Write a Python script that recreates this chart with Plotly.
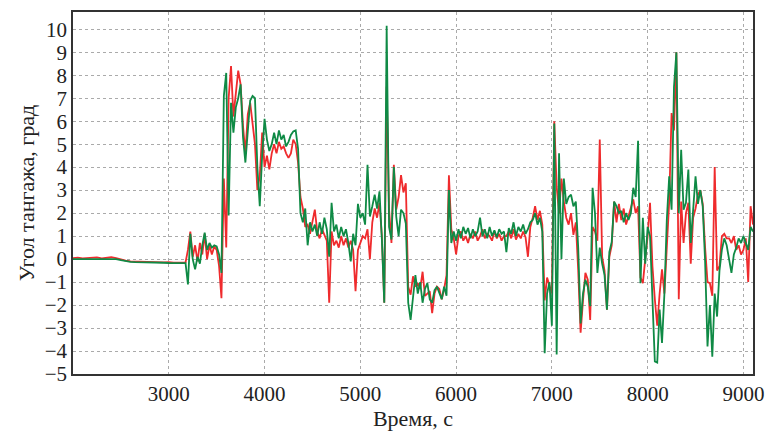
import plotly.graph_objects as go

# time base (s)
time_flat = [2000, 2050, 2100, 2150, 2200, 2250, 2300, 2350, 2400, 2450, 2500, 2550,
             2600, 2650, 2700, 2750, 2800, 2850, 2900, 2950, 3000, 3050, 3100, 3150]
time_active = list(range(3175, 9101, 25))
time = time_flat + time_active

green_flat = [0.0, 0.0, 0.01, 0.0, 0.01, 0.0, 0.01, 0.02, 0.02, 0.0, -0.05, -0.1,
              -0.12, -0.13, -0.13, -0.14, -0.14, -0.15, -0.15, -0.16, -0.17, -0.17, -0.18, -0.18]
red_flat = [0.04, 0.06, 0.03, 0.05, 0.04, 0.07, 0.03, 0.05, 0.08, 0.04, -0.02, -0.07,
            -0.1, -0.11, -0.12, -0.1, -0.13, -0.12, -0.15, -0.14, -0.13, -0.16, -0.15, -0.14]

green_active = [
    -0.18, -1.1, 1.1, 0.0,            # 3175-3250
    -0.45, 0.1, -0.2, 0.6,            # 3275-3350
    1.15, 0.4, 0.7, 0.5,              # 3375-3450
    0.6, 0.55, 0.2, -0.6,             # 3475-3550
    7.1, 8.1, 1.9, 6.8,               # 3575-3650
    5.5, 6.6, 7.0, 7.6,               # 3675-3750
    5.3, 4.2, 5.6, 6.9,               # 3775-3850
    7.1, 7.0, 4.0, 2.3,               # 3875-3950
    4.5, 6.1, 5.2, 4.7,               # 3975-4050
    5.0, 5.5, 5.0, 5.6,               # 4075-4150
    5.2, 5.4, 4.9, 5.1,               # 4175-4250
    5.4, 5.55, 5.6, 4.8,              # 4275-4350
    2.0, 1.6, 2.2, 0.6,               # 4375-4450
    1.6, 1.2, 1.5, 1.0,               # 4475-4550
    1.6, 1.1, 1.8, 1.3,               # 4575-4650
    0.1, 2.45, 1.2, 1.5,              # 4675-4750
    0.9, 1.4, 1.0, 1.3,               # 4775-4850
    0.7, -0.1, 1.1, 0.6,              # 4875-4950
    2.4, 1.8, 2.0, 1.5,               # 4975-5050
    4.1, 1.85, 2.3, 2.8,              # 5075-5150
    2.2, 2.95, 0.85, -1.9,            # 5175-5250
    10.15, 1.4, 0.85, 4.0,            # 5275-5350
    1.85, 1.0, 2.15, 2.0,             # 5375-5450
    1.55, -1.9, -2.65, -1.6,          # 5475-5550
    -0.7, -1.5, -1.0, -1.9,           # 5575-5650
    -1.3, -1.05, -1.75, -1.9,         # 5675-5750
    -1.35, -1.2, -1.5, -1.75,         # 5775-5850
    -1.2, -1.6, 3.0, 0.7,             # 5875-5950
    1.2, 0.8, 1.3, 0.9,               # 5975-6050
    1.4, 1.1, 1.35, 0.9,              # 6075-6150
    1.3, 1.0, 1.2, 1.8,               # 6175-6250
    1.0, 1.3, 0.9, 1.4,               # 6275-6350
    1.0, 1.25, 0.95, 1.3,             # 6375-6450
    1.1, 1.2, 0.3, 1.35,              # 6475-6550
    1.1, 1.6, 1.0, 1.4,               # 6575-6650
    1.2, 1.5, 1.1, 1.3,               # 6675-6750
    1.6, 1.7, 2.0, 1.5,               # 6775-6850
    1.8, 1.2, -4.1, -1.5,             # 6875-6950
    -1.0, -2.9, 5.9, -4.15,           # 6975-7050
    4.6, 0.0, 3.5, 2.4,               # 7075-7150
    2.7, 2.8, 2.3, 2.5,               # 7175-7250
    0.5, -2.8, -1.5, -0.9,            # 7275-7350
    -1.2, -2.05, 3.1, 2.0,            # 7375-7450
    -0.6, 0.5, -0.2, -0.7,            # 7475-7550
    -2.2, 0.3, 0.75, 2.5,             # 7575-7650
    2.3, 2.0, 2.1, 1.6,               # 7675-7750
    2.0, 1.7, 2.0, 3.1,               # 7775-7850
    2.7, 5.15, -1.05, 1.8,            # 7875-7950
    -0.2, 1.4, 1.0, -1.6,             # 7975-8050
    -4.45, -4.5, -2.2, -3.65,         # 8075-8150
    -1.5, 1.7, 3.6, 2.15,             # 8175-8250
    7.5, 9.0, 2.0, 4.75,              # 8275-8350
    2.15, 2.45, 3.9, 0.7,             # 8375-8450
    2.0, 3.6, 2.4, 3.0,               # 8475-8550
    2.3, -0.1, -3.8, -2.0,            # 8575-8650
    -4.25, -1.5, -2.5, -0.5,          # 8675-8750
    0.4, 0.9, 0.6, 0.0,               # 8775-8850
    -0.6, 0.2, 0.5, 0.9,              # 8875-8950
    0.7, 1.0, 0.7, 0.4,               # 8975-9050
    1.4, 1.2,                         # 9075-9100
]

red_active = [
    -0.15, 0.4, 1.2, 0.1,             # 3175-3250
    0.6, -0.1, 0.7, 0.2,              # 3275-3350
    1.1, 0.0, 0.6, 0.2,               # 3375-3450
    0.55, 0.4, -0.3, -1.7,            # 3475-3550
    3.5, 0.5, 7.0, 8.4,               # 3575-3650
    6.2, 7.2, 8.2, 7.6,               # 3675-3750
    5.8, 4.6, 6.3, 6.8,               # 3775-3850
    6.0, 5.0, 3.0, 3.6,               # 3875-3950
    5.5, 4.0, 4.5, 3.9,               # 3975-4050
    4.6, 5.0, 4.6, 5.1,               # 4075-4150
    4.8, 4.9, 4.6, 4.4,               # 4175-4250
    4.6, 5.2, 5.0, 4.2,               # 4275-4350
    2.7, 2.2, 1.4, 1.5,               # 4375-4450
    1.1, 1.7, 2.15, 1.2,              # 4475-4550
    0.9, 1.3, 1.0, 0.8,               # 4575-4650
    -1.9, 1.2, 0.6, 0.8,              # 4675-4750
    0.5, 1.0, 0.6, 0.9,               # 4775-4850
    0.5, 0.8, 0.4, -1.4,              # 4875-4950
    0.4, 0.7, 1.0, 0.9,               # 4975-5050
    1.3, 0.0, 1.6, 2.2,               # 5075-5150
    1.8, 2.45, 1.0, -1.9,             # 5175-5250
    7.5, 2.15, 0.7, 4.1,              # 5275-5350
    2.15, 2.7, 3.65, 2.9,             # 5375-5450
    3.3, -1.2, -1.55, -0.75,          # 5475-5550
    -1.2, -1.05, -1.3, -0.55,         # 5575-5650
    -1.6, -1.5, -1.4, -2.35,          # 5675-5750
    -1.5, -1.2, -1.3, -1.75,          # 5775-5850
    -1.3, -0.7, 3.65, 1.3,            # 5875-5950
    0.9, 0.2, 1.0, 1.2,               # 5975-6050
    0.8, 1.0, 0.7, 1.1,               # 6075-6150
    0.9, 1.2, 0.8, 1.0,               # 6175-6250
    1.3, 0.9, 1.1, 1.0,               # 6275-6350
    0.8, 1.2, 0.9, 1.1,               # 6375-6450
    0.8, 1.0, 1.0, 1.2,               # 6475-6550
    0.9, 1.3, 0.85, 1.1,              # 6575-6650
    0.9, 1.2, 0.95, 0.1,              # 6675-6750
    1.4, 1.8, 2.3, 1.7,               # 6775-6850
    2.1, 1.5, -1.8, -0.8,             # 6875-6950
    -1.2, -1.5, 6.0, 3.15,            # 6975-7050
    2.0, 3.5, 2.5, 1.8,               # 7075-7150
    1.5, 2.0, 1.05, 1.6,              # 7175-7250
    -0.5, -3.2, -1.8, -0.6,           # 7275-7350
    -0.9, -2.65, 1.4, 1.2,            # 7375-7450
    0.8, 5.2, 0.1, -0.5,              # 7475-7550
    -2.2, 0.1, 0.6, 2.5,              # 7575-7650
    1.6, 2.4, 1.7, 2.2,               # 7675-7750
    1.5, 1.9, 2.3, 2.6,               # 7775-7850
    2.0, 2.3, -0.8, -1.05,            # 7875-7950
    0.0, 1.0, 2.45, -0.3,             # 7975-8050
    -1.75, -2.9, -1.5, -0.45,         # 8075-8150
    -1.5, 0.5, 2.5, 6.35,             # 8175-8250
    5.6, 9.0, -1.75, 2.5,             # 8275-8350
    0.7, 2.0, 2.45, -0.2,             # 8375-8450
    1.8, 2.2, 2.8, 3.0,               # 8475-8550
    2.4, 0.5, -1.0, -1.05,            # 8575-8650
    -1.6, 4.0, -0.5, -0.3,            # 8675-8750
    1.0, 1.1, 0.9, 0.9,               # 8775-8850
    0.7, 1.0, 0.4, 0.6,               # 8875-8950
    0.2, 0.4, 0.9, -1.0,              # 8975-9050
    2.3, 1.5,                         # 9075-9100
]

red = red_flat + red_active
green = green_flat + green_active

x_ticks = [3000, 4000, 5000, 6000, 7000, 8000, 9000]
y_ticks = list(range(-5, 11))

RED = "#ef2b2d"
GREEN = "#0f8a45"
FONT = "Liberation Serif, Times New Roman, serif"

fig = go.Figure()
fig.add_trace(go.Scatter(x=time, y=red, mode="lines",
                         line=dict(color=RED, width=1.8), showlegend=False))
fig.add_trace(go.Scatter(x=time, y=green, mode="lines",
                         line=dict(color=GREEN, width=1.8), showlegend=False))

fig.update_layout(
    width=768, height=434,
    margin=dict(l=73, r=15, t=12, b=60, autoexpand=False),
    paper_bgcolor="white", plot_bgcolor="white",
    font=dict(family=FONT, size=21, color="#222"),
    showlegend=False,
)
fig.update_xaxes(
    range=[2000, 9100], tickvals=x_ticks, ticks="",
    showgrid=True, gridcolor="#aaaaaa", griddash="dot", gridwidth=1,
    showline=True, linecolor="#333", linewidth=1.5, mirror=True,
    zeroline=False, automargin=False,
    title=dict(text="Время, с", font=dict(family=FONT, size=22), standoff=2),
    tickfont=dict(family=FONT, size=21),
)
fig.update_yaxes(
    range=[-5, 10.75], tickvals=y_ticks, ticks="",
    showgrid=True, gridcolor="#aaaaaa", griddash="dot", gridwidth=1,
    showline=True, linecolor="#333", linewidth=1.5, mirror=True,
    zeroline=False, automargin=False,
    title=dict(text="Угол тангажа, град", font=dict(family=FONT, size=22), standoff=4),
    tickfont=dict(family=FONT, size=21),
)

fig.write_html("out.html", config={"displayModeBar": False},
               post_script="document.body.style.margin='0';")
